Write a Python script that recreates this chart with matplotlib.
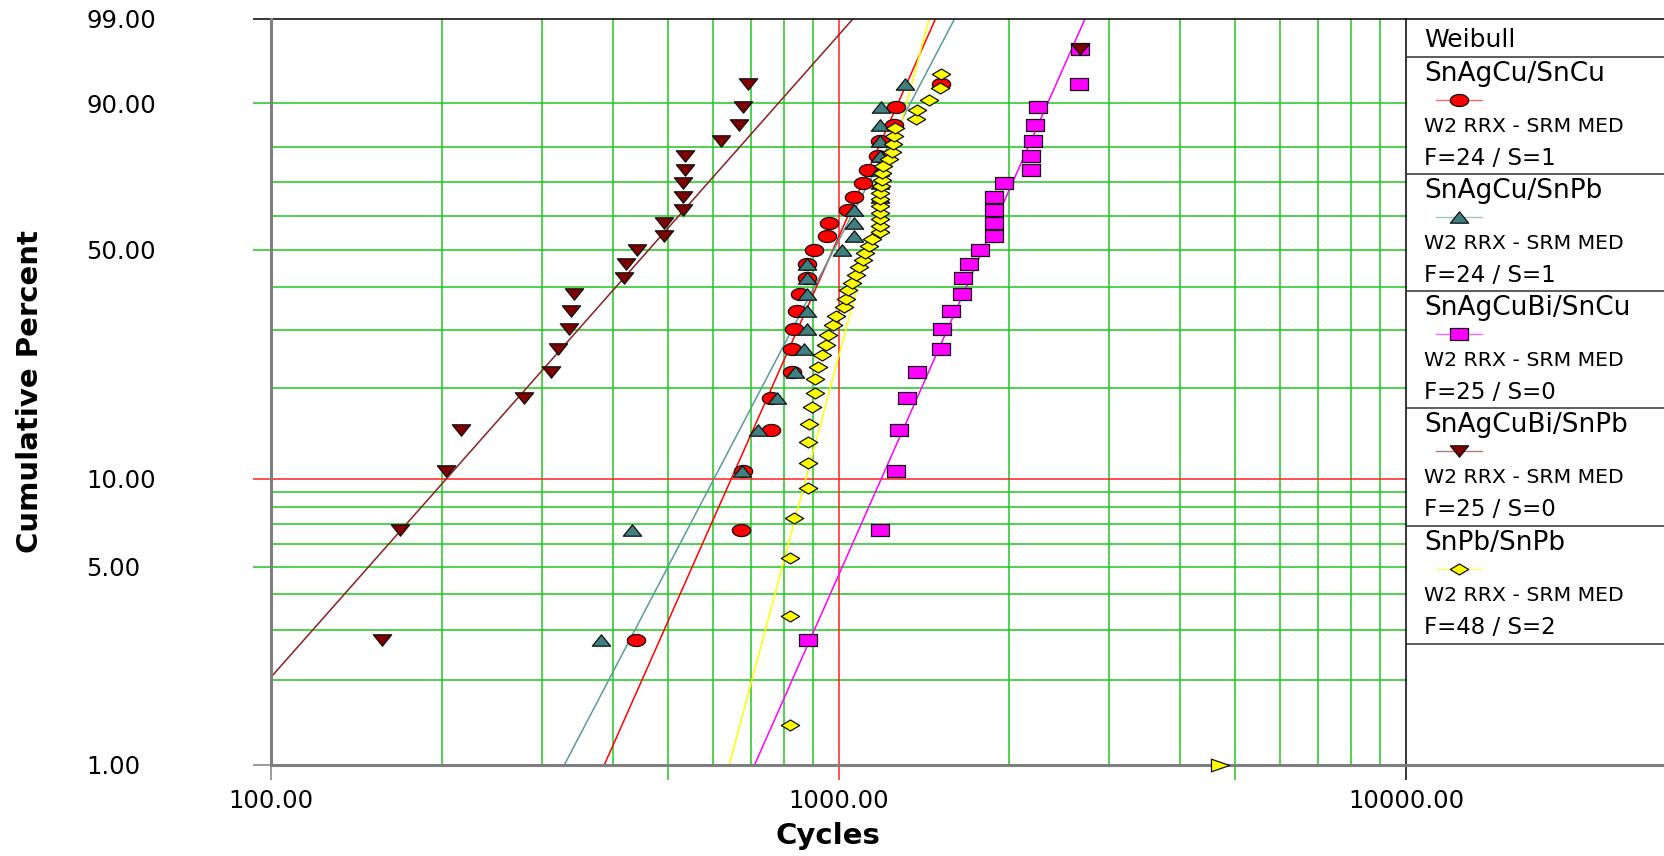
import numpy as np
import matplotlib
matplotlib.use("Agg")
import matplotlib.pyplot as plt
from matplotlib.path import Path
from matplotlib.ticker import NullLocator

# data: failure cycles and cumulative percent (median ranks)
names = ["SnAgCu/SnCu", "SnAgCu/SnPb", "SnAgCuBi/SnCu", "SnAgCuBi/SnPb", "SnPb/SnPb"]
counts = ["F=24 / S=1", "F=24 / S=1", "F=25 / S=0", "F=25 / S=0", "F=48 / S=2"]
method = "W2 RRX - SRM MED"

pct_n25 = [2.76, 6.69, 10.63, 14.57, 18.50, 22.44, 26.38, 30.31, 34.25, 38.19,
           42.13, 46.06, 50.00, 53.94, 57.87, 61.81, 65.75, 69.69, 73.62, 77.56,
           81.50, 85.43, 89.37, 93.31, 97.24]
pct_n50 = [1.39, 3.37, 5.36, 7.34, 9.33, 11.31, 13.29, 15.28, 17.26, 19.25,
           21.23, 23.21, 25.20, 27.18, 29.17, 31.15, 33.13, 35.12, 37.10, 39.09,
           41.07, 43.06, 45.04, 47.02, 49.01, 50.99, 52.98, 54.96, 56.94, 58.93,
           60.91, 62.90, 64.88, 66.87, 68.85, 70.83, 72.82, 74.80, 76.79, 78.77,
           80.75, 82.74, 84.72, 86.71, 88.69, 90.67, 92.66, 94.64]

cyc_sac_sncu = [440, 674, 678, 760, 761, 827, 827, 836, 845, 855, 879, 881,
                905, 955, 963, 1041, 1065, 1106, 1129, 1173, 1184, 1253, 1263, 1514]
cyc_sac_snpb = [382, 433, 675, 721, 779, 838, 870, 879, 879, 879, 879, 879,
                1013, 1067, 1067, 1067, 1183, 1183, 1183, 1181, 1183, 1183, 1186, 1312]
cyc_sacbi_sncu = [882, 1185, 1261, 1277, 1320, 1376, 1514, 1520, 1580, 1649,
                  1660, 1696, 1774, 1877, 1877, 1877, 1877, 1960, 2182, 2182,
                  2204, 2220, 2244, 2657, 2661]
cyc_sacbi_snpb = [157, 169, 203, 216, 279, 311, 321, 335, 338, 342, 418, 423,
                  442, 493, 493, 533, 533, 533, 536, 536, 622, 667, 680, 693, 2665]
cyc_snpb_snpb = [822, 822, 823, 836, 883, 883, 883, 888, 897, 909, 909, 919,
                 936, 951, 959, 979, 990, 1023, 1032, 1041, 1058, 1074, 1087, 1105,
                 1114, 1132, 1146, 1183, 1183, 1183, 1183, 1183, 1183, 1183, 1186, 1192,
                 1192, 1199, 1229, 1242, 1249, 1254, 1258, 1368, 1377, 1445, 1510, 1514]
susp_snpb = [4700]

# fitted Weibull lines (beta, eta)
betas = [4.56, 3.87, 4.57, 2.29, 7.55]
etas = [1060, 1079, 1946, 544, 1180]

# marker shapes (flattened like the original)
t = np.linspace(0, 2 * np.pi, 41)
ellipse = Path(np.column_stack([np.cos(t), 0.66 * np.sin(t)]), closed=True)
tri_up = Path([(-1, -0.62), (1, -0.62), (0, 0.62), (-1, -0.62)], closed=True)
tri_dn = Path([(-1, 0.62), (1, 0.62), (0, -0.62), (-1, 0.62)], closed=True)
rect = Path([(-1, -0.62), (1, -0.62), (1, 0.62), (-1, 0.62), (-1, -0.62)], closed=True)
diamond = Path([(-1, 0), (0, -0.6), (1, 0), (0, 0.6), (-1, 0)], closed=True)
tri_rt = Path([(-1, -0.7), (1, 0), (-1, 0.7), (-1, -0.7)], closed=True)

series = [
    (cyc_sac_sncu, pct_n25[:24], "#ff0000", "#ff0000", ellipse),
    (cyc_sac_snpb, pct_n25[:24], "#3f7f7f", "#5a9a9a", tri_up),
    (cyc_sacbi_sncu, pct_n25, "#ff00ff", "#ff00ff", rect),
    (cyc_sacbi_snpb, pct_n25, "#7f0000", "#8b2020", tri_dn),
    (cyc_snpb_snpb, pct_n50, "#ffff00", "#ffff00", diamond),
]

green = "#1ec81e"
gray = "#7f7f7f"


def fwd(p):
    p = np.asarray(p, dtype=float)
    with np.errstate(all="ignore"):
        return np.log(-np.log(1 - p / 100.0))


def inv(z):
    z = np.asarray(z, dtype=float)
    with np.errstate(all="ignore"):
        return 100.0 * (1 - np.exp(-np.exp(z)))


W, H = 1664, 856
fig = plt.figure(figsize=(W / 100, H / 100), dpi=100)
ax = fig.add_axes([271 / W, 1 - 765 / H, (1406 - 271) / W, (765 - 19) / H])
ax.set_xscale("log")
ax.set_yscale("function", functions=(fwd, inv))
ax.set_xlim(100, 10000)
ax.set_ylim(1, 99)

# grid
for v in [200, 300, 400, 500, 600, 700, 800, 900, 2000, 3000, 4000, 5000, 6000, 7000, 8000, 9000]:
    ax.axvline(v, color=green, lw=1.1, zorder=1)
for v in [2, 3, 4, 5, 6, 7, 8, 9, 20, 30, 40, 50, 60, 70, 80, 90]:
    ax.axhline(v, color=green, lw=1.1, zorder=1)
ax.axvline(1000, color="#ff2020", lw=1.1, zorder=1)
ax.axhline(10, color="#ff2020", lw=1.1, zorder=1)

# fitted lines, then points
for (cyc, pct, fc, lc, mk), b, e in zip(series, betas, etas):
    cend = e * (-np.log(1 - np.array([0.0001, 0.9999]))) ** (1 / b)
    pend = 100 * (1 - np.exp(-(cend / e) ** b))
    ax.plot(cend, pend, color=lc, lw=1.1, zorder=2)
for cyc, pct, fc, lc, mk in series:
    ax.plot(cyc, pct, ls="none", marker=mk, ms=13.2, mfc=fc, mec="#101010",
            mew=0.9, zorder=3)
ax.plot(susp_snpb, [1] * len(susp_snpb), ls="none", marker=tri_rt, ms=13,
        mfc="#ffff00", mec="#101010", mew=0.9, zorder=4, clip_on=False)

# frame
for s in ["left", "bottom"]:
    ax.spines[s].set_color(gray)
    ax.spines[s].set_linewidth(2.2)
for s in ["top", "right"]:
    ax.spines[s].set_color("black")
    ax.spines[s].set_linewidth(1.1)
ax.spines["left"].set_zorder(5)

# ticks
xt = [100, 500, 1000, 5000, 10000]
xt_lab = ["100.00", "", "1000.00", "", "10000.00"]
xt_col = [gray, green, "#ff2020", green, "black"]
yt = [1, 5, 10, 50, 90, 99]
yt_lab = ["1.00", "5.00", "10.00", "50.00", "90.00", "99.00"]
yt_col = [gray, green, "#ff2020", green, green, "black"]
ax.set_xticks(xt, xt_lab)
ax.set_yticks(yt, yt_lab)
ax.xaxis.set_minor_locator(NullLocator())
ax.yaxis.set_minor_locator(NullLocator())
ax.tick_params(axis="x", length=11, width=1.1, pad=6, labelsize=17.5)
ax.tick_params(axis="y", length=13, width=1.1, pad=120, labelsize=17.5)
for tk, c in zip(ax.xaxis.get_major_ticks(), xt_col):
    tk.tick1line.set_markeredgecolor(c)
for tk, c in zip(ax.yaxis.get_major_ticks(), yt_col):
    tk.tick1line.set_markeredgecolor(c)
for lbl in ax.get_yticklabels():
    lbl.set_horizontalalignment("left")

fig.text(828 / W, 1 - 836 / H, "Cycles", ha="center", va="center",
         fontsize=21, fontweight="bold")
fig.text(30 / W, 1 - 392 / H, "Cumulative Percent", ha="center", va="center",
         rotation=90, fontsize=21, fontweight="bold")

# legend panel on the right
lg = fig.add_axes([1406 / W, 1 - 765 / H, (W - 1406) / W, (765 - 19) / H])
lg.set_xlim(1406, W)
lg.set_ylim(765, 19)
lg.axis("off")
lg.hlines(19, 1406, W, color="black", lw=1.1, clip_on=False)
lg.hlines(765, 1406, W, color=gray, lw=2.2, clip_on=False)
lg.hlines([57, 174, 291, 408, 526, 644], 1406, W, color="#303030", lw=1.1)
lg.text(1424, 40, "Weibull", fontsize=18, va="center", ha="left")
tops = [57, 174, 291, 408, 526]
for (cyc, pct, fc, lc, mk), nm, cnt, s in zip(series, names, counts, tops):
    lg.text(1424, s + 17, nm, fontsize=19, va="center", ha="left")
    lg.plot([1436, 1482], [s + 43, s + 43], color=lc, lw=1, alpha=0.6)
    lg.plot([1459], [s + 43], ls="none", marker=mk, ms=13.2, mfc=fc,
            mec="#101010", mew=0.9)
    lg.text(1424, s + 69.5, method, fontsize=14.7, va="center", ha="left")
    lg.text(1424, s + 102, cnt, fontsize=16.5, va="center", ha="left")

fig.savefig("out.png", dpi=100)
